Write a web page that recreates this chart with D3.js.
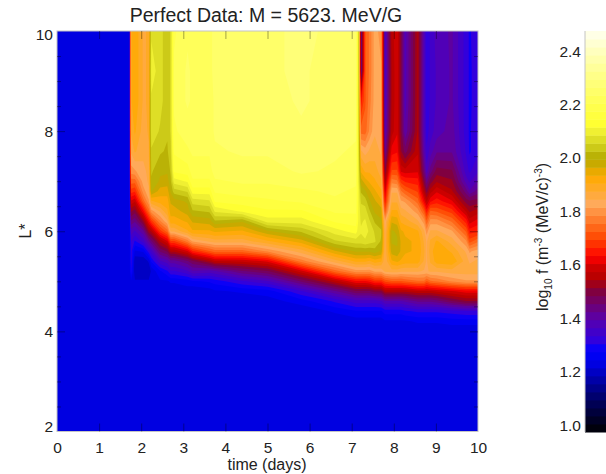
<!DOCTYPE html>
<html>
<head>
<meta charset="utf-8">
<script src="https://cdn.jsdelivr.net/npm/d3@7"></script>
<style>
  html, body { margin: 0; padding: 0; background: #fff; }
  text { font-family: "Liberation Sans", sans-serif; fill: #222; }
</style>
</head>
<body>
<svg id="drawing-area" width="606" height="474"></svg>
<script>
// time (days) of each column in fByTime
const times = [0, 1.72, 1.76, 1.85, 2.05, 2.18, 2.24, 2.45, 2.62, 2.7, 2.78, 3.1, 3.22, 3.62, 3.75, 4.4, 5, 5.8, 6.6,
  7.1, 7.16, 7.22, 7.32, 7.42, 7.55, 7.7, 7.79, 7.95, 8.08, 8.17, 8.27, 8.57, 8.72, 8.78, 8.87, 9.02, 9.38, 9.72, 9.8, 10];

// L* of each entry inside a column
const lStars = [2, 3.8, 4, 4.2, 4.4, 4.6, 4.8, 5, 5.2, 5.4, 5.6, 5.8, 6, 6.2, 6.4, 6.6, 6.8, 7, 7.2, 7.6, 8, 8.6, 9.2, 10];

// log10 f, one line per time
const fByTime = [
  [1.22,1.22,1.22,1.22,1.22,1.22,1.22,1.22,1.22,1.22,1.22,1.22,1.22,1.22,1.22,1.22,1.22,1.22,1.22,1.22,1.22,1.22,1.22,1.22],
  [1.22,1.22,1.22,1.22,1.22,1.22,1.22,1.22,1.22,1.22,1.22,1.22,1.22,1.22,1.22,1.22,1.22,1.22,1.22,1.22,1.22,1.22,1.22,1.22],
  [1.22,1.22,1.22,1.22,1.22,1.22,1.22,1.24,1.30,1.32,1.32,1.34,1.38,1.45,1.52,1.60,1.68,1.74,1.80,1.85,1.88,1.90,1.90,1.90],
  [1.22,1.22,1.22,1.22,1.22,1.22,1.22,1.22,1.19,1.19,1.24,1.30,1.36,1.43,1.50,1.58,1.67,1.74,1.81,1.88,1.91,1.93,1.93,1.93],
  [1.22,1.22,1.22,1.22,1.22,1.22,1.22,1.22,1.19,1.19,1.25,1.35,1.42,1.52,1.63,1.74,1.80,1.83,1.84,1.85,1.86,1.87,1.87,1.87],
  [1.22,1.22,1.22,1.22,1.22,1.22,1.22,1.22,1.19,1.22,1.32,1.42,1.53,1.63,1.74,1.81,1.84,1.85,1.85,1.87,1.88,1.88,1.88,1.88],
  [1.22,1.22,1.22,1.22,1.22,1.22,1.22,1.23,1.22,1.28,1.35,1.45,1.55,1.68,1.80,1.90,2.00,2.02,2.03,2.05,2.08,2.08,2.10,2.08],
  [1.22,1.22,1.22,1.22,1.22,1.22,1.22,1.24,1.27,1.36,1.46,1.55,1.68,1.78,1.85,1.92,1.95,1.99,2.00,2.03,2.05,2.07,2.07,2.07],
  [1.22,1.22,1.22,1.22,1.22,1.22,1.22,1.24,1.30,1.38,1.49,1.60,1.74,1.84,1.90,1.92,1.95,1.98,2.00,2.02,2.03,2.03,2.03,2.03],
  [1.22,1.22,1.22,1.22,1.22,1.22,1.22,1.25,1.33,1.41,1.55,1.69,1.85,1.92,1.95,1.97,2.00,2.02,2.03,2.05,2.06,2.06,2.06,2.06],
  [1.22,1.22,1.22,1.22,1.22,1.22,1.22,1.25,1.33,1.41,1.55,1.69,1.85,1.92,1.95,1.98,2.04,2.10,2.15,2.18,2.20,2.21,2.21,2.20],
  [1.22,1.22,1.22,1.22,1.22,1.22,1.23,1.26,1.36,1.45,1.60,1.77,1.90,1.94,1.98,2.00,2.06,2.12,2.16,2.20,2.22,2.24,2.24,2.23],
  [1.22,1.22,1.22,1.22,1.22,1.22,1.22,1.27,1.39,1.48,1.66,1.82,1.93,1.97,2.02,2.07,2.13,2.17,2.19,2.21,2.22,2.23,2.23,2.22],
  [1.22,1.22,1.22,1.22,1.22,1.22,1.23,1.28,1.38,1.54,1.72,1.85,1.93,1.98,2.03,2.08,2.13,2.17,2.19,2.21,2.22,2.22,2.22,2.22],
  [1.22,1.22,1.22,1.22,1.22,1.22,1.24,1.29,1.39,1.57,1.74,1.86,1.94,2.02,2.09,2.15,2.18,2.20,2.22,2.23,2.24,2.24,2.25,2.25],
  [1.22,1.22,1.22,1.22,1.22,1.22,1.25,1.33,1.45,1.58,1.74,1.86,1.93,2.00,2.12,2.16,2.19,2.21,2.22,2.24,2.25,2.25,2.24,2.25],
  [1.22,1.22,1.22,1.22,1.22,1.23,1.26,1.36,1.48,1.61,1.79,1.90,1.99,2.10,2.14,2.17,2.19,2.21,2.22,2.24,2.25,2.25,2.26,2.25],
  [1.22,1.22,1.22,1.22,1.22,1.26,1.33,1.46,1.59,1.77,1.86,1.95,2.03,2.10,2.14,2.18,2.20,2.22,2.24,2.25,2.26,2.27,2.27,2.28],
  [1.22,1.22,1.22,1.22,1.25,1.31,1.42,1.56,1.74,1.86,1.96,2.05,2.10,2.15,2.18,2.20,2.21,2.22,2.23,2.24,2.24,2.25,2.25,2.25],
  [1.22,1.22,1.22,1.23,1.27,1.35,1.48,1.63,1.80,1.91,2.00,2.07,2.13,2.16,2.18,2.19,2.20,2.21,2.22,2.23,2.24,2.25,2.26,2.26],
  [1.22,1.22,1.22,1.23,1.27,1.35,1.48,1.63,1.80,1.91,2.00,2.07,2.10,2.11,2.11,2.11,2.11,2.10,2.10,2.09,2.08,2.07,2.07,2.07],
  [1.22,1.22,1.22,1.23,1.27,1.35,1.48,1.63,1.80,1.91,2.00,2.07,2.09,2.08,2.07,2.05,2.02,1.98,1.93,1.85,1.74,1.65,1.42,1.42],
  [1.22,1.22,1.22,1.23,1.27,1.35,1.48,1.63,1.80,1.91,2.00,2.08,2.10,2.09,2.07,2.04,2.00,1.95,1.90,1.83,1.74,1.72,1.72,1.72],
  [1.22,1.22,1.22,1.23,1.27,1.35,1.48,1.64,1.80,1.90,2.00,2.07,2.08,2.06,2.03,2.00,1.97,1.93,1.90,1.85,1.79,1.77,1.76,1.76],
  [1.22,1.22,1.22,1.23,1.27,1.35,1.50,1.67,1.82,1.92,2.01,2.06,2.05,2.02,1.99,1.97,1.94,1.91,1.89,1.86,1.84,1.83,1.83,1.83],
  [1.22,1.22,1.22,1.23,1.27,1.36,1.50,1.67,1.82,1.91,1.99,2.02,2.03,2.00,1.98,1.94,1.91,1.88,1.86,1.84,1.83,1.82,1.82,1.80],
  [1.22,1.22,1.22,1.24,1.29,1.39,1.55,1.70,1.85,1.85,1.85,1.85,1.84,1.82,1.72,1.65,1.60,1.55,1.50,1.42,1.38,1.36,1.35,1.36],
  [1.22,1.22,1.22,1.24,1.29,1.39,1.55,1.72,1.86,1.93,1.98,2.00,2.00,1.96,1.91,1.87,1.84,1.77,1.70,1.62,1.56,1.55,1.55,1.56],
  [1.22,1.22,1.22,1.24,1.29,1.39,1.55,1.72,1.86,1.94,1.99,2.00,1.99,1.95,1.91,1.87,1.84,1.76,1.70,1.63,1.60,1.60,1.60,1.60],
  [1.22,1.22,1.22,1.24,1.29,1.39,1.55,1.72,1.85,1.93,1.96,1.96,1.94,1.90,1.86,1.82,1.76,1.68,1.60,1.52,1.50,1.50,1.50,1.50],
  [1.22,1.22,1.22,1.24,1.30,1.40,1.55,1.73,1.85,1.92,1.94,1.94,1.93,1.89,1.85,1.81,1.73,1.66,1.59,1.47,1.40,1.38,1.38,1.38],
  [1.22,1.22,1.22,1.25,1.31,1.43,1.57,1.75,1.85,1.92,1.93,1.93,1.91,1.85,1.80,1.74,1.69,1.65,1.60,1.57,1.55,1.55,1.55,1.55],
  [1.22,1.22,1.22,1.25,1.31,1.43,1.57,1.75,1.84,1.87,1.88,1.87,1.85,1.80,1.72,1.62,1.55,1.50,1.45,1.40,1.38,1.38,1.38,1.38],
  [1.22,1.22,1.22,1.25,1.31,1.43,1.57,1.72,1.84,1.84,1.84,1.84,1.80,1.73,1.65,1.57,1.50,1.44,1.38,1.34,1.32,1.31,1.31,1.31],
  [1.22,1.22,1.22,1.25,1.31,1.43,1.57,1.75,1.85,1.88,1.89,1.88,1.85,1.80,1.73,1.63,1.56,1.50,1.44,1.38,1.35,1.34,1.34,1.34],
  [1.22,1.22,1.22,1.25,1.31,1.44,1.58,1.76,1.85,1.92,1.93,1.91,1.85,1.80,1.72,1.65,1.60,1.54,1.50,1.42,1.38,1.37,1.37,1.38],
  [1.22,1.22,1.22,1.26,1.32,1.48,1.60,1.79,1.86,1.93,1.90,1.86,1.82,1.75,1.68,1.61,1.55,1.52,1.49,1.42,1.41,1.40,1.40,1.40],
  [1.22,1.22,1.22,1.26,1.33,1.51,1.62,1.81,1.86,1.86,1.84,1.79,1.72,1.65,1.57,1.50,1.44,1.38,1.35,1.33,1.32,1.32,1.32,1.32],
  [1.22,1.22,1.22,1.26,1.33,1.51,1.62,1.81,1.86,1.84,1.81,1.71,1.65,1.59,1.54,1.49,1.40,1.36,1.33,1.30,1.30,1.30,1.30,1.30],
  [1.22,1.22,1.22,1.26,1.33,1.51,1.62,1.81,1.86,1.85,1.83,1.75,1.66,1.62,1.56,1.50,1.44,1.40,1.36,1.33,1.33,1.32,1.32,1.33],
];

// colour table
const colorValues = [0.975, 1.1, 1.23, 1.28, 1.32, 1.4, 1.5, 1.55, 1.6, 1.63, 1.7, 1.75, 1.83, 1.93, 1.97, 2.0, 2.05, 2.1, 2.13, 2.2, 2.3, 2.4, 2.475];
const colorHexes = ["#000000", "#000064", "#0000e1", "#0000ff", "#3200dc", "#5a00aa", "#800040", "#b40000", "#d20000", "#ff0000",
  "#ff4600", "#ff6e1e", "#ffaa5a", "#ffaa00", "#d2aa00", "#b4aa00", "#d2d21e", "#f0f032", "#ffff32", "#ffff50", "#ffff82", "#ffffbe", "#fffff0"];

const xTicks = [0, 1, 2, 3, 4, 5, 6, 7, 8, 9, 10];
const yTicks = [2, 4, 6, 8, 10];
const yMinorTicks = [2.5, 3, 3.5, 4.5, 5, 5.5, 6.5, 7, 7.5, 8.5, 9, 9.5];
const barTicks = [1.0, 1.2, 1.4, 1.6, 1.8, 2.0, 2.2, 2.4];

const levelMin = 0.975, levelMax = 2.475, levelStep = 0.03;
const levels = d3.range(levelMin, levelMax - levelStep / 2, levelStep);

const x = d3.scaleLinear().domain([0, 10]).range([57, 478]);
const y = d3.scaleLinear().domain([2, 10]).range([431.5, 31]);
const barY = d3.scaleLinear().domain([levelMin, levelMax]).range([432, 31]);
const color = d3.scaleLinear().domain(colorValues).range(colorHexes);
const levelColor = t => color(t + levelStep / 2);

const svg = d3.select("#drawing-area");

// contours work on a flat grid, value at grid point i sits at i + 0.5
const nx = times.length, ny = lStars.length;
const grid = new Array(nx * ny);
fByTime.forEach((col, i) => col.forEach((v, j) => { grid[j * nx + i] = v; }));

const colToTime = d3.scaleLinear().domain(times.map((_, i) => i + 0.5)).range(times).clamp(true);
const rowToL = d3.scaleLinear().domain(lStars.map((_, j) => j + 0.5)).range(lStars).clamp(true);

const path = d3.geoPath(d3.geoTransform({
  point(px, py) { this.stream.point(x(colToTime(px)), y(rowToL(py))); }
}));

svg.append("rect")
  .attr("x", x(0)).attr("y", y(10))
  .attr("width", x(10) - x(0)).attr("height", y(2) - y(10))
  .attr("fill", levelColor(levels[0]));

const contours = d3.contours().size([nx, ny]).thresholds(levels).smooth(true)(grid);
svg.append("g")
  .selectAll("path")
  .data(contours)
  .enter()
  .append("path")
  .attr("d", path)
  .attr("fill", d => levelColor(d.value));

// frame, ticks point inward on all four sides
svg.append("rect")
  .attr("x", x(0)).attr("y", y(10))
  .attr("width", x(10) - x(0)).attr("height", y(2) - y(10))
  .attr("fill", "none").attr("stroke", "#c4c4c4").attr("stroke-width", 1);

function tickAxis(axis, size, values, translate) {
  const g = svg.append("g")
    .attr("transform", translate)
    .call(axis.tickValues(values).tickSize(size).tickFormat(""));
  g.select(".domain").remove();
  g.selectAll("line").attr("stroke", "#000").attr("stroke-opacity", 0.36);
}
tickAxis(d3.axisBottom(x), -8, xTicks.slice(1, -1), `translate(0,${y(2)})`);
tickAxis(d3.axisTop(x), -8, xTicks.slice(1, -1), `translate(0,${y(10)})`);
tickAxis(d3.axisLeft(y), -8, yTicks.slice(1, -1), `translate(${x(0)},0)`);
tickAxis(d3.axisRight(y), -8, yTicks.slice(1, -1), `translate(${x(10)},0)`);
tickAxis(d3.axisLeft(y), -4, yMinorTicks, `translate(${x(0)},0)`);
tickAxis(d3.axisRight(y), -4, yMinorTicks, `translate(${x(10)},0)`);

// tick labels
const xLabels = svg.append("g")
  .attr("transform", `translate(0,${y(2)})`)
  .call(d3.axisBottom(x).tickValues(xTicks).tickSize(0).tickPadding(10).tickFormat(d3.format("d")));
xLabels.select(".domain").remove();
xLabels.selectAll("text").style("font-size", "15.5px");

const yLabels = svg.append("g")
  .attr("transform", `translate(${x(0)},0)`)
  .call(d3.axisLeft(y).tickValues(yTicks).tickSize(0).tickPadding(4).tickFormat(d3.format("d")));
yLabels.select(".domain").remove();
yLabels.selectAll("text")
  .style("font-size", "15.5px")
  .attr("transform", d => d === 2 ? "translate(0,-4.5)" : d === 10 ? "translate(0,4)" : null);

svg.append("text")
  .attr("x", 266).attr("y", 22)
  .attr("text-anchor", "middle")
  .style("font-size", "19.5px")
  .text("Perfect Data: M = 5623. MeV/G");

svg.append("text")
  .attr("x", 267).attr("y", 470)
  .attr("text-anchor", "middle")
  .style("font-size", "16px")
  .text("time (days)");

svg.append("text")
  .attr("transform", "translate(31,231) rotate(-90)")
  .attr("text-anchor", "middle")
  .style("font-size", "16px")
  .text("L*");

// colour bar
svg.append("g")
  .selectAll("rect")
  .data(levels)
  .enter()
  .append("rect")
  .attr("x", 585)
  .attr("y", d => barY(d + levelStep))
  .attr("width", 21)
  .attr("height", d => barY(d) - barY(d + levelStep) + 0.5)
  .attr("fill", levelColor);

svg.append("line")
  .attr("x1", 585).attr("x2", 585).attr("y1", 31).attr("y2", 432)
  .attr("stroke", "#c4c4c4");

const barLabels = svg.append("g")
  .attr("transform", "translate(585,0)")
  .call(d3.axisLeft(barY).tickValues(barTicks).tickSize(0).tickPadding(4).tickFormat(d3.format(".1f")));
barLabels.select(".domain").remove();
barLabels.selectAll("text").style("font-size", "15.5px");

const barTitle = svg.append("text")
  .attr("transform", "translate(548,237) rotate(-90)")
  .attr("text-anchor", "middle")
  .style("font-size", "16px");
barTitle.append("tspan").text("log");
barTitle.append("tspan").attr("dy", 4).style("font-size", "10px").text("10");
barTitle.append("tspan").attr("dy", -4).text(" f (m");
barTitle.append("tspan").attr("dy", -6).style("font-size", "10px").text("-3");
barTitle.append("tspan").attr("dy", 6).text(" (MeV/c)");
barTitle.append("tspan").attr("dy", -6).style("font-size", "10px").text("-3");
barTitle.append("tspan").attr("dy", 6).text(")");
</script>
</body>
</html>
